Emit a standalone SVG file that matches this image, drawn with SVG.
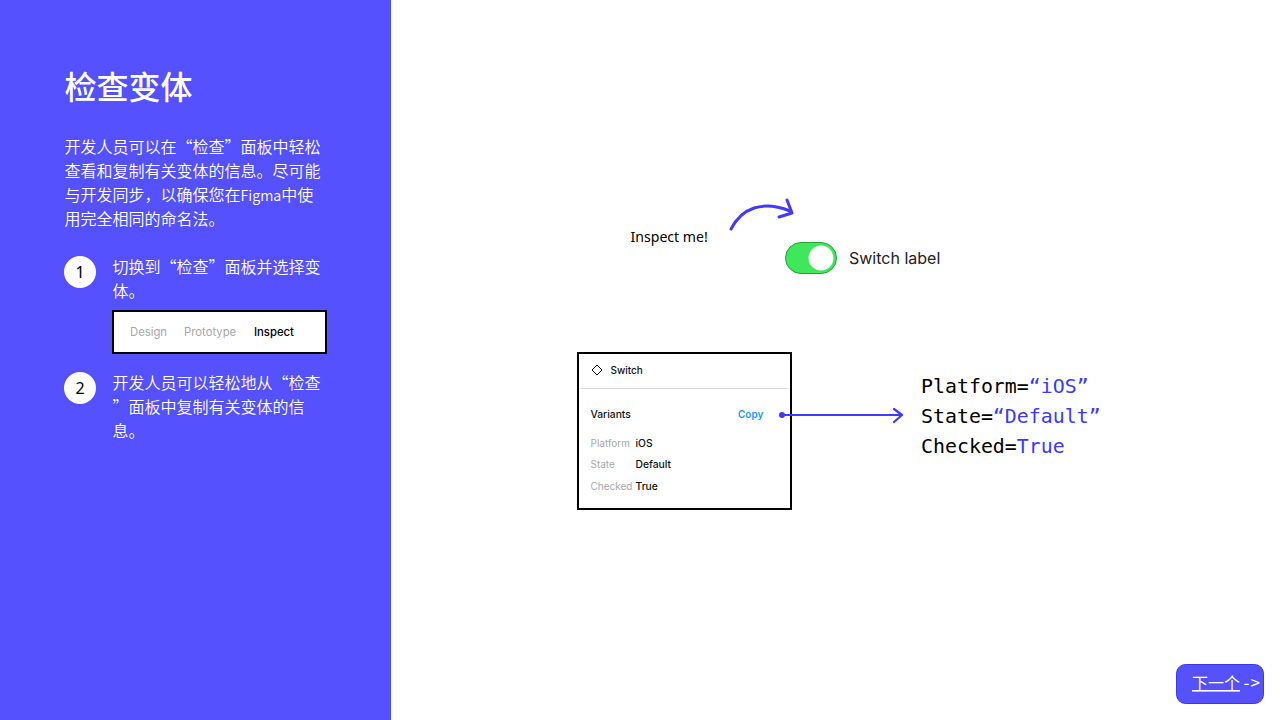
<svg xmlns="http://www.w3.org/2000/svg" width="1280" height="720" viewBox="0 0 1280 720" lang="zh-CN">
<style>
.cjk{font-family:"Noto Sans CJK SC","Noto Sans",sans-serif;fill:#fff}
.body{font-size:16px;font-weight:350}
.q{font-feature-settings:"fwid"}
.ui{font-family:Inter,"Liberation Sans",sans-serif}
.s11{font-size:10.300px}
.s10{font-size:10px}
.tab{font-size:11.300px}
.b{font-weight:500;fill:#111}
.g{fill:#a8a8a8}
.mono{font-family:"DejaVu Sans Mono","Liberation Mono",monospace;font-size:19.900px;fill:#000}
.blue{fill:#3a3aff}
.ln{fill:none;stroke:#4338ff;stroke-width:2.200;stroke-linecap:round;stroke-linejoin:round}
.thick{stroke-width:3}
</style>
<rect width="1280" height="720" fill="#fff"/>
<rect id="panel" width="391" height="720" fill="#5551ff"/>
<g id="intro">
<text class="cjk" x="64.500" y="99" font-size="32" font-weight="500">检查变体</text>
<text class="cjk body" x="64.500" y="153">开发人员可以在<tspan class="q">“</tspan>检查<tspan class="q">”</tspan>面板中轻松</text>
<text class="cjk body" x="64.500" y="177">查看和复制有关变体的信息。尽可能</text>
<text class="cjk body" x="64.500" y="201">与开发同步，以确保您在<tspan font-size="14.300">Figma</tspan>中使</text>
<text class="cjk body" x="64.500" y="225">用完全相同的命名法。</text>
</g>
<g id="step1">
<circle cx="80" cy="272" r="16" fill="#fff"/>
<text x="80" y="278" text-anchor="middle" font-family="'Noto Sans',sans-serif" font-size="16" fill="#000">1</text>
<text class="cjk body" x="112.500" y="273">切换到<tspan class="q">“</tspan>检查<tspan class="q">”</tspan>面板并选择变</text>
<text class="cjk body" x="112.500" y="297">体。</text>
</g>
<g id="tabs">
<rect x="113" y="311" width="213" height="42" fill="#fff" stroke="#000" stroke-width="2"/>
<text class="ui tab g" x="130" y="336">Design</text>
<text class="ui tab g" x="184" y="336">Prototype</text>
<text class="ui tab b" x="254" y="336" style="fill:#000">Inspect</text>
</g>
<g id="step2">
<circle cx="80" cy="388" r="16" fill="#fff"/>
<text x="80" y="394" text-anchor="middle" font-family="'Noto Sans',sans-serif" font-size="16" fill="#000">2</text>
<text class="cjk body" x="112.500" y="389">开发人员可以轻松地从<tspan class="q">“</tspan>检查</text>
<text class="cjk body" x="112.500" y="413"><tspan class="q">”</tspan>面板中复制有关变体的信</text>
<text class="cjk body" x="112.500" y="437">息。</text>
</g>
<g id="inspect-label">
<text x="630.500" y="242" font-family="'Noto Sans',sans-serif" font-size="14.100" fill="#000">Inspect me!</text>
</g>
<g id="switch">
<rect x="785.500" y="242.500" width="51" height="31" rx="15.500" fill="#3ee85a" stroke="#1fa83a" stroke-width="1"/>
<circle cx="821" cy="258" r="12.500" fill="#fff"/>
<text class="ui" x="849" y="264" font-size="16" fill="#222">Switch label</text>
</g>
<g id="variants-card">
<rect x="578" y="353" width="213" height="156" fill="#fff" stroke="#000" stroke-width="2"/>
<line x1="580" y1="388.500" x2="789" y2="388.500" stroke="#e2e2e2"/>
<path d="M597 365 L602 370 L597 375 L592 370 Z" fill="none" stroke="#111" stroke-width="1"/>
<text class="ui s10 b" x="610.500" y="374">Switch</text>
<text class="ui s11 b" x="590.500" y="418">Variants</text>
<text class="ui s10" x="738" y="418" font-weight="600" fill="#1f96f3">Copy</text>
<text class="ui s10 g" x="590.500" y="446.500">Platform</text>
<text class="ui s11 b" x="635.500" y="446.500">iOS</text>
<text class="ui s10 g" x="590.500" y="468">State</text>
<text class="ui s11 b" x="635.500" y="468">Default</text>
<text class="ui s10 g" x="590.500" y="490">Checked</text>
<text class="ui s11 b" x="635.500" y="490">True</text>
</g>
<g id="code">
<text class="mono" x="921" y="393">Platform=<tspan class="blue">“iOS”</tspan></text>
<text class="mono" x="921" y="423">State=<tspan class="blue">“Default”</tspan></text>
<text class="mono" x="921" y="453">Checked=<tspan class="blue">True</tspan></text>
</g>
<g id="connectors">
<path class="ln thick" d="M731 229 C742 208 762 200 790 211"/>
<path class="ln thick" d="M787 200 L792 213 L779 217"/>
<circle cx="782" cy="415" r="3" fill="#4338ff"/>
<path class="ln" d="M782 415 H901"/>
<path class="ln" d="M894 409 L902 415 L894 422"/>
</g>
<g id="next">
<rect x="1176.500" y="664.500" width="87" height="39" rx="9" fill="#5551ff" stroke="#3a3ae0"/>
<text class="cjk" x="1192" y="689" font-size="16" text-decoration="underline">下一个</text>
<text class="cjk" x="1243.500" y="688.500" font-size="17" letter-spacing="1">-&gt;</text>
</g>
</svg>
